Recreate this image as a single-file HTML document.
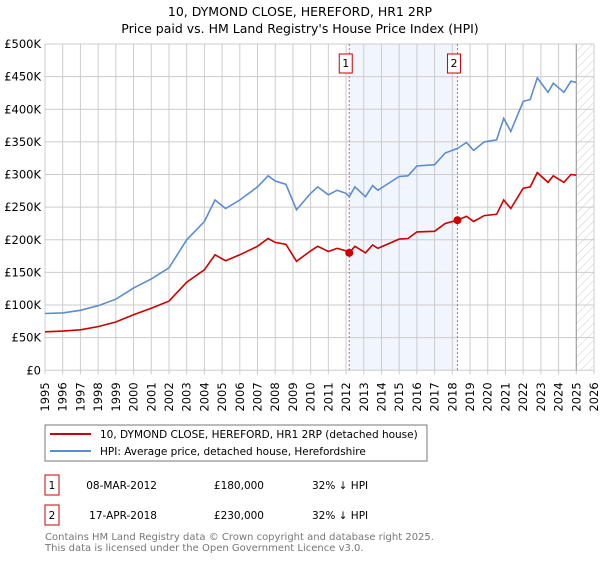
<!DOCTYPE html>
<html><head><meta charset="utf-8"><style>
body{margin:0;background:#fff;width:600px;height:560px;overflow:hidden;font-family:"DejaVu Sans","Liberation Sans",sans-serif}
svg text{font-family:"DejaVu Sans","Liberation Sans",sans-serif}
</style></head><body>
<svg id="c" width="600" height="560" xmlns="http://www.w3.org/2000/svg">
<defs><pattern id="hatch" width="6" height="6" patternUnits="userSpaceOnUse" patternTransform="rotate(45)"><line x1="0" y1="0" x2="0" y2="6" stroke="#ccc" stroke-width="1"/></pattern></defs>
<text x="300" y="16" text-anchor="middle" font-size="12.5">10, DYMOND CLOSE, HEREFORD, HR1 2RP</text>
<text x="300" y="33" text-anchor="middle" font-size="12.5">Price paid vs. HM Land Registry's House Price Index (HPI)</text>
<g id="plot"></g>
<g>
<rect x="45" y="425" width="382" height="36" fill="#fff" stroke="#777"/>
<line x1="50" y1="434" x2="91" y2="434" stroke="#cc0000" stroke-width="2"/>
<text x="100" y="438" font-size="10.5">10, DYMOND CLOSE, HEREFORD, HR1 2RP (detached house)</text>
<line x1="50" y1="451" x2="91" y2="451" stroke="#5b8dd0" stroke-width="2"/>
<text x="100" y="455" font-size="10.5">HPI: Average price, detached house, Herefordshire</text>
</g>
<g font-size="10.5">
<rect x="45" y="475" width="14" height="20" fill="#fff" stroke="#cc0000"/>
<text x="52" y="489" text-anchor="middle">1</text>
<text x="157" y="489" text-anchor="end">08-MAR-2012</text>
<text x="264" y="489" text-anchor="end">£180,000</text>
<text x="312" y="489">32% ↓ HPI</text>
<rect x="45" y="505" width="14" height="20" fill="#fff" stroke="#cc0000"/>
<text x="52" y="519" text-anchor="middle">2</text>
<text x="157" y="519" text-anchor="end">17-APR-2018</text>
<text x="264" y="519" text-anchor="end">£230,000</text>
<text x="312" y="519">32% ↓ HPI</text>
</g>
<text x="45" y="540" font-size="10" fill="#777">Contains HM Land Registry data © Crown copyright and database right 2025.</text>
<text x="45" y="551" font-size="10" fill="#777">This data is licensed under the Open Government Licence v3.0.</text>
</svg>
<script>
const years=[1995.0,1996.0,1997.0,1998.0,1999.0,2000.0,2001.0,2002.0,2003.0,2004.0,2004.6,2005.2,2006.0,2007.0,2007.6,2008.0,2008.6,2009.2,2010.0,2010.4,2011.0,2011.5,2012.0,2012.18,2012.5,2013.1,2013.5,2013.8,2015.0,2015.5,2016.0,2017.0,2017.6,2018.29,2018.8,2019.2,2019.8,2020.5,2020.9,2021.3,2022.0,2022.4,2022.8,2023.4,2023.7,2024.3,2024.7,2025.0];
const hpiValues=[87000,88000,92000,99000,109000,126000,140000,157000,200000,228000,261000,248000,261000,281000,298000,290000,285000,246000,271000,281000,269000,276000,271000,266000,281000,266000,283000,276000,297000,298000,313000,315000,333000,340000,349000,337000,350000,353000,386000,366000,412000,415000,448000,426000,440000,426000,443000,441000];
const propertyValues=[59000,60000,62000,67000,74000,85000,95000,106000,135000,154000,177000,168000,177000,190000,202000,196000,193000,167000,183000,190000,182000,187000,183000,180000,190000,180000,192000,187000,201000,202000,212000,213000,225000,230000,236000,228000,237000,239000,261000,248000,279000,281000,303000,288000,298000,288000,300000,299000];
const saleYears=[2012.18,2018.29];
const salePrices=[180000,230000];
const saleLabels=["1","2"];
const yTicks=[0,50000,100000,150000,200000,250000,300000,350000,400000,450000,500000];
const yTickLabels=["£0","£50K","£100K","£150K","£200K","£250K","£300K","£350K","£400K","£450K","£500K"];
const xStart=1995,xEnd=2026,dataEnd=2025.0;

const L=45,R=594,T=44,B=370.3;
const X=y=>L+(y-xStart)/(xEnd-xStart)*(R-L);
const Y=v=>B-v/500000*(B-T);
const NS="http://www.w3.org/2000/svg";
const g=document.getElementById('plot');
function mk(t,a){const e=document.createElementNS(NS,t);for(const k in a)e.setAttribute(k,a[k]);g.appendChild(e);return e;}
// shaded span
let e=mk('rect',{x:X(saleYears[0]),y:T,width:X(saleYears[1])-X(saleYears[0]),height:B-T,fill:'#eef3fd',opacity:0.8});


// grid
yTicks.forEach((v,i)=>{
 let l=mk('line',{x1:L,x2:R,y1:Y(v),y2:Y(v),stroke:'#cccccc'});
 
 
 let t=mk('text',{x:L-4,y:Y(v)+4,'text-anchor':'end','font-size':'11.5'});
 
 
 t.textContent=yTickLabels[i];
});
for(let yr=xStart;yr<=xEnd;yr++){
 let l=mk('line',{x1:X(yr),x2:X(yr),y1:T,y2:B+4,stroke:'#cccccc'});
 
 
 let t=mk('text',{x:0,y:0,'text-anchor':'end','font-size':'11.5',transform:`translate(${X(yr)+4},${B+12}) rotate(-90)`});
 
 
 t.textContent=String(yr);
}
// hatched future
e=mk('rect',{x:X(dataEnd),y:T,width:R-X(dataEnd),height:B-T,fill:'url(#hatch)'});


e=mk('line',{x1:X(dataEnd),x2:X(dataEnd),y1:T,y2:B,stroke:'#999'});


// sale markers
saleYears.forEach((s,i)=>{
 let l=mk('line',{x1:X(s),x2:X(s),y1:T,y2:B,stroke:'#e06070','stroke-dasharray':'2,2'});
 
 
 let r=mk('rect',{x:X(s)-10,y:54,width:13,height:19,fill:'#fff',stroke:'#cc0000'});
 
 
 let t=mk('text',{x:X(s)-3.5,y:67,'text-anchor':'middle','font-size':'11'});
 
 
 t.textContent=saleLabels[i];
});
// lines
const hp=years.map((y,i)=>X(y).toFixed(1)+','+Y(hpiValues[i]).toFixed(1)).join(' ');
e=mk('polyline',{points:hp,fill:'none',stroke:'#5b8dd0','stroke-width':1.6});


const pp=years.map((y,i)=>X(y).toFixed(1)+','+Y(propertyValues[i]).toFixed(1)).join(' ');
e=mk('polyline',{points:pp,fill:'none',stroke:'#cc0000','stroke-width':1.6});


saleYears.forEach((s,i)=>{
 let c=mk('circle',{cx:X(s),cy:Y(salePrices[i]),r:4,fill:'#cc0000'});
 
 
});
</script>
</body></html>
